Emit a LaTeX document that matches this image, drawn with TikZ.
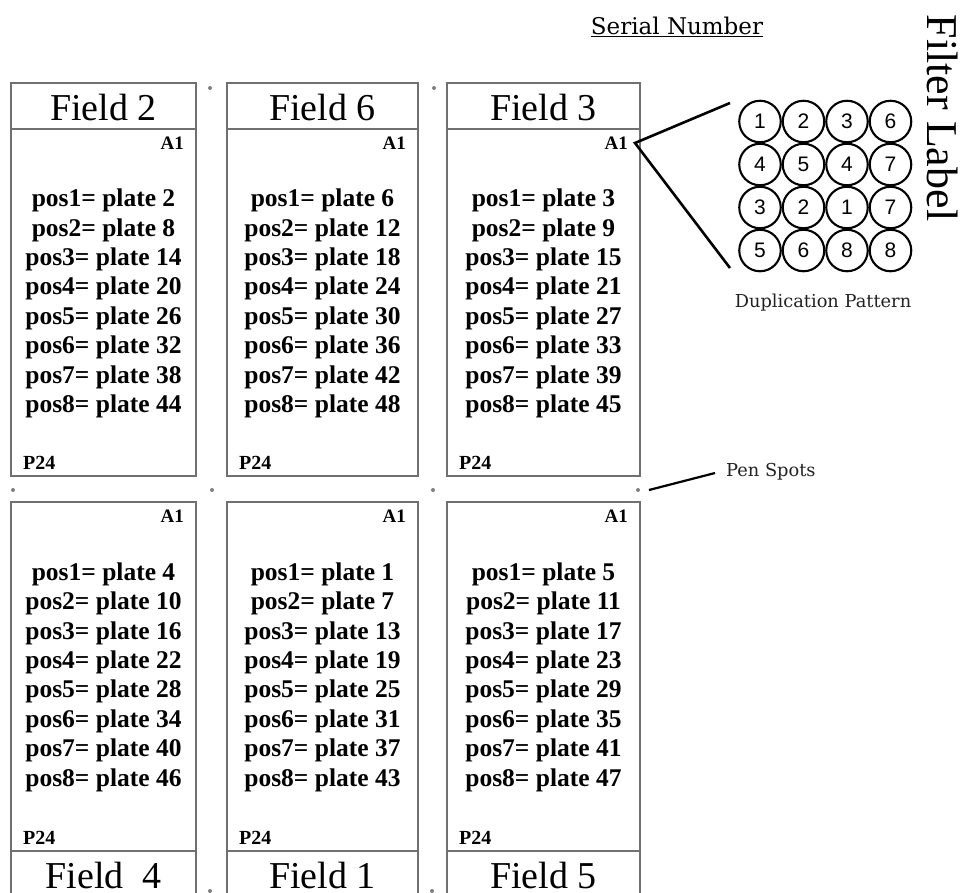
\documentclass[tikz,border=0pt]{standalone}
\usepackage{fontspec}
\setmainfont{Liberation Serif}
\newfontfamily\dejaserif{DejaVu Serif}
\newfontfamily\arialfont{Liberation Sans}
\definecolor{boxgray}{HTML}{707070}
\definecolor{dotgray}{HTML}{808080}
\definecolor{labelgray}{HTML}{222222}
\tikzset{
  boxline/.style={draw=boxgray, line width=1.6pt},
  fieldtxt/.style={font=\fontsize{38}{40}\selectfont, inner sep=0pt},
  smalltxt/.style={font=\bfseries\fontsize{19}{21}\selectfont, inner sep=0pt},
  ptxt/.style={font=\bfseries\fontsize{20}{22}\selectfont, inner sep=0pt},
  bodytxt/.style={font=\bfseries\fontsize{25.5}{29.4}\selectfont, align=center, inner sep=0pt},
  pendot/.style={circle, fill=dotgray, inner sep=0pt, minimum size=4pt},
  pointer/.style={draw=black, line width=2.6pt},
  well/.style={circle, draw=black, line width=2.1pt, minimum size=41.5pt, inner sep=0pt, font=\arialfont\fontsize{21}{23}\selectfont},
  note/.style={font=\dejaserif\fontsize{17.8}{20}\selectfont, text=labelgray, inner sep=0pt}
}
\newcommand\topcell[5]{%
  \draw[boxline] (#2,83) rectangle (#3,476);
  \draw[boxline] (#2,129) -- (#3,129);
  \node[fieldtxt] (#1f) at ({(#2+#3)/2},107) {#4};
  \node[smalltxt, anchor=east] (#1a) at ({#3-12},143) {A1};
  \node[bodytxt] (#1b) at ({(#2+#3)/2},303.5) {#5};
  \node[ptxt, anchor=west] (#1p) at ({#2+12},463) {P24};
}
\newcommand\botcell[5]{%
  \draw[boxline] (#2,502) rectangle (#3,898);
  \draw[boxline] (#2,851) -- (#3,851);
  \node[fieldtxt] (#1f) at ({(#2+#3)/2},875) {#4};
  \node[smalltxt, anchor=east] (#1a) at ({#3-12},516) {A1};
  \node[bodytxt] (#1b) at ({(#2+#3)/2},677) {#5};
  \node[ptxt, anchor=west] (#1p) at ({#2+12},838) {P24};
}
\begin{document}
\begin{tikzpicture}[x=1pt, y=-1pt]
\path[use as bounding box] (0,0) rectangle (966,892);
\clip (0,0) rectangle (966,892);
\fill[white] (0,0) rectangle (966,892);

\topcell{t2}{11}{196}{Field 2}{pos1= plate 2\\pos2= plate 8\\pos3= plate 14\\pos4= plate 20\\pos5= plate 26\\pos6= plate 32\\pos7= plate 38\\pos8= plate 44}
\topcell{t6}{227}{418}{Field 6}{pos1= plate 6\\pos2= plate 12\\pos3= plate 18\\pos4= plate 24\\pos5= plate 30\\pos6= plate 36\\pos7= plate 42\\pos8= plate 48}
\topcell{t3}{447}{640}{Field 3}{pos1= plate 3\\pos2= plate 9\\pos3= plate 15\\pos4= plate 21\\pos5= plate 27\\pos6= plate 33\\pos7= plate 39\\pos8= plate 45}
\botcell{b4}{11}{196}{Field\ \ 4}{pos1= plate 4\\pos2= plate 10\\pos3= plate 16\\pos4= plate 22\\pos5= plate 28\\pos6= plate 34\\pos7= plate 40\\pos8= plate 46}
\botcell{b1}{227}{418}{Field 1}{pos1= plate 1\\pos2= plate 7\\pos3= plate 13\\pos4= plate 19\\pos5= plate 25\\pos6= plate 31\\pos7= plate 37\\pos8= plate 43}
\botcell{b5}{447}{640}{Field 5}{pos1= plate 5\\pos2= plate 11\\pos3= plate 17\\pos4= plate 23\\pos5= plate 29\\pos6= plate 35\\pos7= plate 41\\pos8= plate 47}

% pen spots
\node[pendot] (d1) at (210,88) {};
\node[pendot] (d2) at (434,88) {};
\node[pendot] (d3) at (13,490) {};
\node[pendot] (d4) at (212,490) {};
\node[pendot] (d5) at (433,490) {};
\node[pendot] (d6) at (638,490) {};
\node[pendot] (d7) at (210,891) {};
\node[pendot] (d8) at (432,891) {};

\node[note, anchor=west] (pen) at (726,472) {Pen Spots};
\coordinate (ps1) at (649,490);
\coordinate (ps2) at (715,473);
\draw[pointer, line width=2.2pt] (ps1) -- (ps2);

% titles
\node[font=\dejaserif\fontsize{23}{25}\selectfont, text=black, inner sep=0pt] (serial) at (677,27) {\underline{Serial Number}};
\node[font=\fontsize{44}{46}\selectfont, rotate=-90, inner sep=0pt] (filter) at (943,118) {Filter Label};

% duplication pattern
\coordinate (apex) at (635,143);
\coordinate (dtop) at (730,103);
\coordinate (dbot) at (730,268);
\draw[pointer] (dtop) -- (apex) -- (dbot);

\foreach \row/\y/\a/\b/\c/\d in {1/121.5/1/2/3/6, 2/164.5/4/5/4/7, 3/207.5/3/2/1/7, 4/250.5/5/6/8/8}{
  \node[well] (w\row a) at (760,\y) {\a};
  \node[well] (w\row b) at (803.5,\y) {\b};
  \node[well] (w\row c) at (847,\y) {\c};
  \node[well] (w\row d) at (890.5,\y) {\d};
}
\node[note] (dup) at (823,303) {Duplication Pattern};
\end{tikzpicture}
\end{document}
